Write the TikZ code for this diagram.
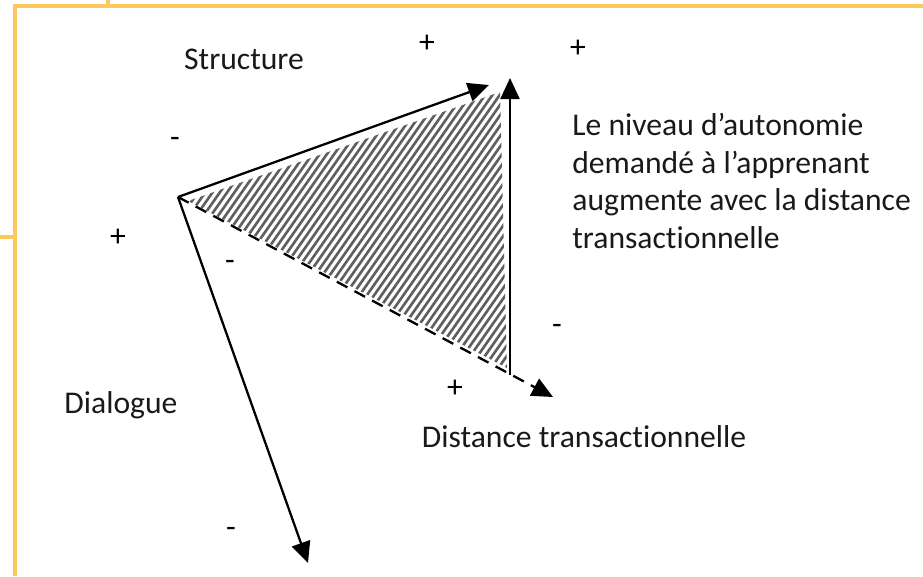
\documentclass[tikz,border=0pt]{standalone}
\usepackage{fontspec}
\setmainfont{Carlito}[Ligatures=NoCommon]
\usepackage{xcolor}
\usetikzlibrary{arrows.meta,positioning}
\definecolor{framegold}{RGB}{255,200,90}
\definecolor{hatchgrey}{RGB}{95,95,95}

\begin{document}
\begin{tikzpicture}[x=0.02cm, y=-0.02cm,
    vec/.style={-{Triangle[length=0.42cm, width=0.38cm]}, line width=1.3pt, black},
    dashvec/.style={vec, dash pattern=on 0.24cm off 0.16cm},
    txt/.style={font=\fontsize{18}{21.5}\selectfont, text=black!90, inner sep=0pt},
    sign/.style={font=\fontsize{18}{21.5}\selectfont, inner sep=0pt},
    goldline/.style={line width=2pt, framegold},
    hatch/.style={hatchgrey, line width=1.5pt}
]
    \useasboundingbox (0,0) rectangle (923,576);

    % frame of the page
    \draw[goldline] (15,576) -- (15,6) -- (923,6);
    \draw[goldline] (108,0) -- (108,6);
    \draw[goldline] (0,237) -- (15,237);

    \coordinate (O) at (178,197);
    \coordinate (sTip) at (489,85);
    \coordinate (vBase) at (510,375);
    \coordinate (vTip) at (510,78);
    \coordinate (dTip) at (553,397);
    \coordinate (dlTip) at (308,563);

    % hatched area
    \begin{scope}
        \clip (188,201) -- (500,92) -- (507,368) -- cycle;
        \foreach \k in {-400,-392.7,...,560}
            \draw[hatch] (\k,400) -- ++(280,-400);
    \end{scope}

    \draw[vec] (O) -- (sTip);
    \draw[vec] (vBase) -- (vTip);
    \draw[dashvec] (O) -- (dTip);
    \draw[vec] (O) -- (dlTip);

    \node[txt] (structure) at (244,59) {Structure};
    \node[txt] (dialogue) at (121,405) {Dialogue};
    \node[txt] (distance) at (584,437) {Distance transactionnelle};
    \node[txt, anchor=west, align=left] (autonomie) at (572,181)
        {Le niveau d’autonomie\\demandé à l’apprenant\\augmente avec la distance\\transactionnelle};

    \node[sign] (p1) at (427,44) {+};
    \node[sign] (p2) at (578,49) {+};
    \node[sign] (p3) at (118,238) {+};
    \node[sign] (p4) at (455,389) {+};
    \node[sign] (m1) at (175,142) {-};
    \node[sign] (m2) at (230,265) {-};
    \node[sign] (m3) at (557,329) {-};
    \node[sign] (m4) at (231,532) {-};
\end{tikzpicture}
\end{document}
